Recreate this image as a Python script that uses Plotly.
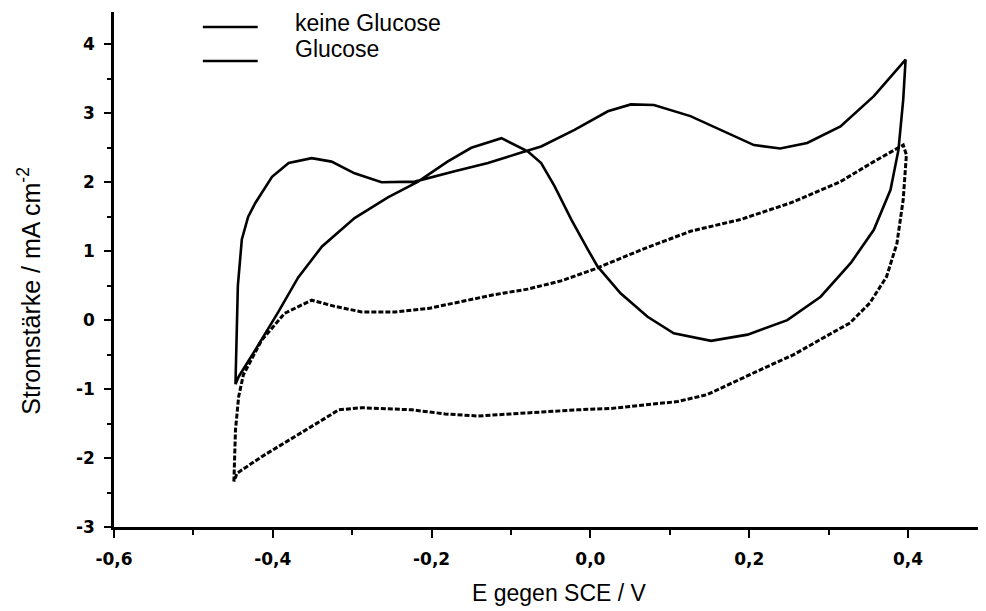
import plotly.graph_objects as go

# ---- data ----
glucose_E = [-0.447, -0.446, -0.444, -0.439, -0.431, -0.422, -0.401, -0.380, -0.351, -0.326,
             -0.297, -0.263, -0.221, -0.171, -0.129, -0.090, -0.062, -0.020, 0.022, 0.051,
             0.080, 0.126, 0.168, 0.206, 0.239, 0.273, 0.315, 0.357, 0.397,
             0.394, 0.388, 0.378, 0.357, 0.328, 0.290, 0.248, 0.198, 0.152, 0.105,
             0.072, 0.038, 0.009, -0.003, -0.024, -0.045, -0.062, -0.079, -0.112, -0.150, -0.180,
             -0.217, -0.255, -0.297, -0.338, -0.368, -0.393, -0.422, -0.443, -0.447]
glucose_I = [-0.93, -0.40, 0.50, 1.17, 1.50, 1.70, 2.08, 2.28, 2.35, 2.30,
             2.13, 2.00, 2.01, 2.16, 2.28, 2.42, 2.52, 2.76, 3.03, 3.13,
             3.12, 2.96, 2.74, 2.54, 2.49, 2.57, 2.81, 3.25, 3.78,
             3.20, 2.47, 1.89, 1.31, 0.83, 0.34, 0.00, -0.21, -0.30, -0.19,
             0.05, 0.39, 0.78, 1.02, 1.46, 1.94, 2.28, 2.45, 2.64, 2.50, 2.30,
             2.01, 1.78, 1.48, 1.07, 0.62, 0.12, -0.43, -0.82, -0.93]

blank_E = [-0.449, -0.447, -0.443, -0.437, -0.414, -0.385, -0.351, -0.322, -0.288, -0.246,
           -0.204, -0.163, -0.121, -0.079, -0.037, 0.005, 0.064, 0.126, 0.189, 0.252,
           0.315, 0.357, 0.394, 0.398,
           0.394, 0.386, 0.373, 0.352, 0.327, 0.302, 0.256, 0.214, 0.172, 0.147,
           0.110, 0.068, 0.026, -0.016, -0.079, -0.142, -0.183, -0.225, -0.288, -0.317,
           -0.338, -0.372, -0.414, -0.445, -0.449]
blank_I = [-2.34, -1.59, -1.11, -0.79, -0.29, 0.10, 0.29, 0.20, 0.12, 0.12,
           0.17, 0.27, 0.37, 0.45, 0.57, 0.74, 1.02, 1.29, 1.46, 1.70,
           2.01, 2.30, 2.54, 2.40,
           1.75, 1.11, 0.63, 0.25, -0.04, -0.20, -0.50, -0.72, -0.94, -1.08,
           -1.18, -1.23, -1.28, -1.30, -1.35, -1.39, -1.36, -1.30, -1.27, -1.30,
           -1.45, -1.69, -1.98, -2.22, -2.34]

x_tickvals = [-0.6, -0.4, -0.2, 0.0, 0.2, 0.4]
x_ticktext = ["-0,6", "-0,4", "-0,2", "0,0", "0,2", "0,4"]
y_tickvals = [-3, -2, -1, 0, 1, 2, 3, 4]
y_ticktext = ["-3", "-2", "-1", "0", "1", "2", "3", "4"]

legend_names = ["keine Glucose", "Glucose"]

fig = go.Figure()
fig.add_trace(go.Scatter(x=blank_E, y=blank_I, mode="lines", name=legend_names[0],
                         line=dict(color="black", width=3, dash="5px,2px"), showlegend=False))
fig.add_trace(go.Scatter(x=glucose_E, y=glucose_I, mode="lines", name=legend_names[1],
                         line=dict(color="black", width=2.6), showlegend=False))

tickfont = dict(family="DejaVu Sans", size=17, color="black", weight="bold")
titlefont = dict(family="Liberation Sans, Arial", size=23, color="black")
ytitlefont = dict(family="Liberation Sans, Arial", size=25, color="black")

fig.update_xaxes(range=[-0.6, 0.497], showline=True, linecolor="black", linewidth=2.5,
                 showgrid=False, zeroline=False, ticks="outside", ticklen=8, tickwidth=2,
                 tickcolor="black", tickvals=x_tickvals, ticktext=x_ticktext,
                 tickfont=tickfont, ticklabelstandoff=7,
                 minor=dict(tickmode="linear", tick0=-0.5, dtick=0.2, ticks="outside",
                            ticklen=5, tickwidth=2, tickcolor="black"))
fig.update_yaxes(range=[-3, 4.47], showline=True, linecolor="black", linewidth=2.5,
                 showgrid=False, zeroline=False, ticks="outside", ticklen=7, tickwidth=2,
                 tickcolor="black", tickvals=y_tickvals, ticktext=y_ticktext,
                 tickfont=tickfont, ticklabelstandoff=6,
                 minor=dict(tickmode="linear", tick0=-2.5, dtick=1, ticks="outside",
                            ticklen=4, tickwidth=2, tickcolor="black"))

# legend drawn as in the reference (two short solid strokes + labels)
for yl, yt, name in [(0.971, 0.979, legend_names[0]), (0.905, 0.928, legend_names[1])]:
    fig.add_shape(type="line", xref="paper", yref="paper", x0=0.102, x1=0.165, y0=yl, y1=yl,
                  line=dict(color="black", width=2.5))
    fig.add_annotation(xref="paper", yref="paper", x=0.205, y=yt, xanchor="left",
                       yanchor="middle", text=name, showarrow=False, font=titlefont)

fig.add_annotation(xref="paper", yref="paper", x=-0.097, y=0.458, text="Stromstärke / mA cm<sup>-2</sup>",
                   textangle=-90, showarrow=False, font=ytitlefont, xanchor="center", yanchor="middle")
fig.add_annotation(xref="paper", yref="paper", x=0.512, y=-0.128, text="E gegen SCE / V",
                   showarrow=False, font=titlefont, xanchor="center", yanchor="middle")

# page body has an 8px default margin, so the figure is sized/offset to compensate
fig.update_layout(width=978, height=603, margin=dict(l=106, r=1, t=4, b=84),
                  plot_bgcolor="white", paper_bgcolor="white", showlegend=False)

fig.write_html("out.html")
